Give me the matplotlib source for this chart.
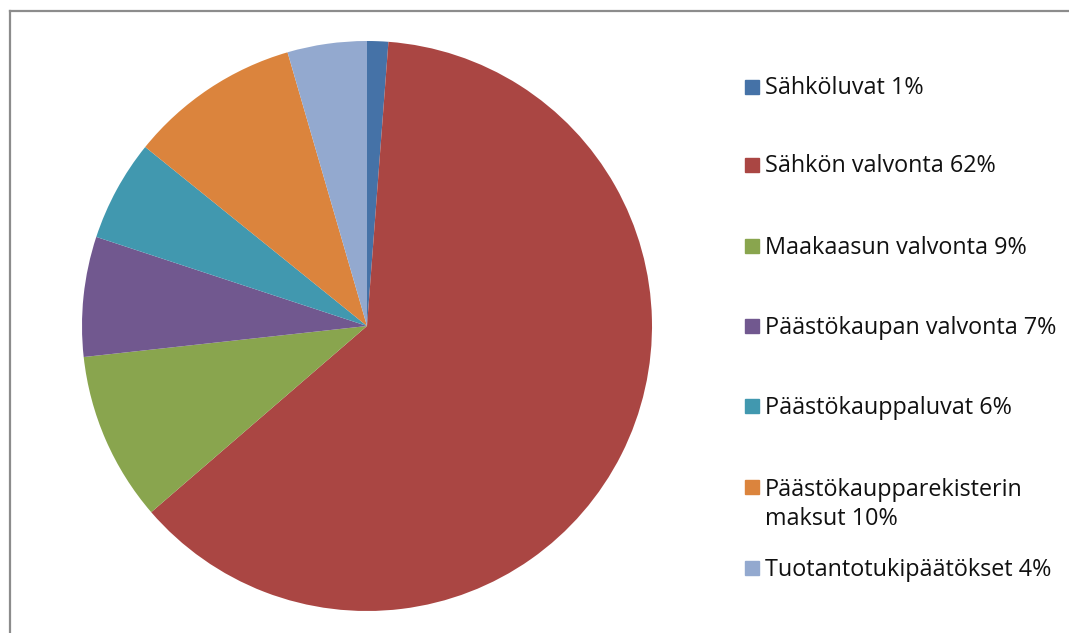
import matplotlib
matplotlib.use("Agg")
import matplotlib.pyplot as plt
from matplotlib.patches import Rectangle
from matplotlib.lines import Line2D

# Data
labels = ['Sähköluvat 1%', 'Sähkön valvonta 62%', 'Maakaasun valvonta 9%',
          'Päästökaupan valvonta 7%', 'Päästökauppaluvat 6%',
          'Päästökaupparekisterin\nmaksut 10%', 'Tuotantotukipäätökset 4%']
shares = [1.2, 62.5, 9.6, 6.8, 5.75, 9.7, 4.5]
colors = ['#4572A7', '#AA4643', '#89A54E', '#71588F', '#4198AF', '#DB843D', '#93A9CF']

W, H = 1069, 633
fig = plt.figure(figsize=(W / 100, H / 100), dpi=100)
fig.patch.set_facecolor('white')

# pie: centre (367, 326) px, radius 285 px
cx, cy, r = 367, 326, 285
ax = fig.add_axes([(cx - r) / W, (H - cy - r) / H, 2 * r / W, 2 * r / H])
ax.pie(shares, colors=colors, startangle=90, counterclock=False,
       wedgeprops=dict(linewidth=0))
ax.set_xlim(-1, 1)
ax.set_ylim(-1, 1)
ax.set_aspect('equal')
ax.axis('off')

# chart frame (top and left edges visible)
frame = '#8c8c8c'
fig.add_artist(Line2D([10 / W, 1.01], [1 - 11 / H, 1 - 11 / H], color=frame, lw=1.6,
                      transform=fig.transFigure))
fig.add_artist(Line2D([10 / W, 10 / W], [1 - 11 / H, -0.01], color=frame, lw=1.6,
                      transform=fig.transFigure))

# legend drawn by hand, like the spreadsheet layout
ys = [87, 165, 246, 326, 406, 487, 568]
for lab, col, y in zip(labels, colors, ys):
    fig.add_artist(Rectangle((745 / W, 1 - (y + 7) / H), 14 / W, 14 / H,
                             color=col, transform=fig.transFigure))
    ty = y + 16 if '\n' in lab else y
    fig.text(765 / W, 1 - (ty + 1.5) / H, lab, fontsize=16.8, family='Open Sans',
             va='center', ha='left', color='#111111', linespacing=1.3)

fig.savefig('out.png', dpi=100)
